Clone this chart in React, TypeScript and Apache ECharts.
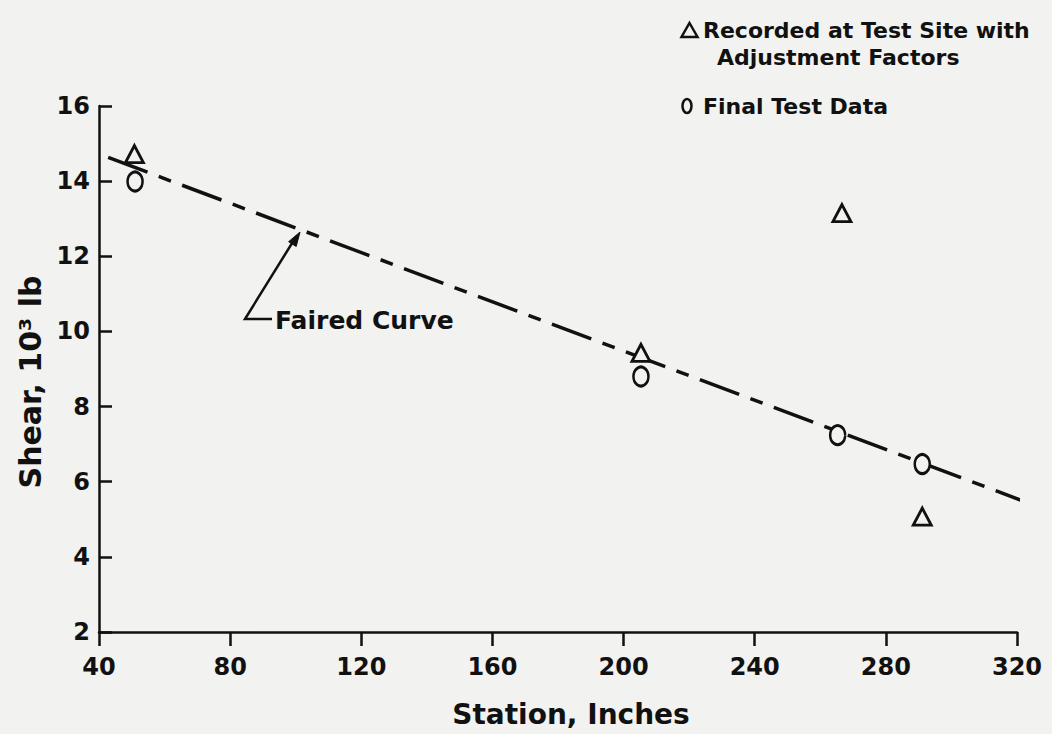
import React, { useEffect, useRef } from "react";
import * as echarts from "echarts";

// ---- data ----
const xTicks = [40, 80, 120, 160, 200, 240, 280, 320];
const yTicks = [2, 4, 6, 8, 10, 12, 14, 16];

const recordedStations = [50.8, 205.3, 266.6, 291.1];
const recordedShear = [14.72, 9.43, 13.15, 5.07];

const finalStations = [51.0, 205.3, 265.3, 291.1];
const finalShear = [13.99, 8.8, 7.24, 6.47];

const fairedStations = [42.8, 323.6];
const fairedShear = [14.63, 5.43];

const INK = "#111111";
const BG = "#f2f2f0";
const FONT = "DejaVu Sans";

export default function App() {
  const ref = useRef<HTMLDivElement>(null);

  useEffect(() => {
    if (!ref.current) return;
    const chart = echarts.init(ref.current, undefined, { renderer: "svg" });

    const recorded = recordedStations.map((x, i) => [x, recordedShear[i]]);
    const finals = finalStations.map((x, i) => [x, finalShear[i]]);
    const faired = fairedStations.map((x, i) => [x, fairedShear[i]]);

    const tip = [300, 232];
    chart.setOption({
      animation: false,
      backgroundColor: BG,
      textStyle: { fontFamily: FONT, color: INK, fontWeight: "bold" },
      grid: { left: 99, right: 35, top: 106, bottom: 102, containLabel: false },
      xAxis: {
        type: "value",
        min: xTicks[0],
        max: xTicks[xTicks.length - 1],
        interval: 40,
        name: "Station, Inches",
        nameLocation: "middle",
        nameGap: 68,
        nameTextStyle: { fontSize: 28, color: INK, fontFamily: FONT, fontWeight: "bold", padding: [0, 0, 0, 26] },
        axisLine: { show: true, lineStyle: { color: INK, width: 2.5 } },
        axisTick: { show: true, inside: false, length: 14, lineStyle: { color: INK, width: 2.5 } },
        axisLabel: { fontSize: 24, color: INK, margin: 23, fontFamily: FONT, fontWeight: "bold" },
        splitLine: { show: false },
      },
      yAxis: {
        type: "value",
        min: yTicks[0],
        max: yTicks[yTicks.length - 1],
        interval: 2,
        name: "Shear, 10³ lb",
        nameLocation: "middle",
        nameGap: 48,
        nameRotate: 90,
        nameTextStyle: { fontSize: 30, color: INK, fontFamily: FONT, fontWeight: "bold", padding: [0, 26, 0, 0] },
        axisLine: { show: true, lineStyle: { color: INK, width: 2.5 } },
        axisTick: { show: true, inside: true, length: 13, lineStyle: { color: INK, width: 2.5 } },
        axisLabel: { fontSize: 24, color: INK, margin: 9, fontFamily: FONT, fontWeight: "bold" },
        splitLine: { show: false },
      },
      series: [
        {
          name: "Faired Curve",
          type: "line",
          data: faired,
          symbol: "none",
          clip: false,
          silent: true,
          z: 1,
          lineStyle: { color: INK, width: 3.5, type: [42, 12, 13, 12], opacity: 1 },
        },
        {
          name: "Recorded at Test Site with Adjustment Factors",
          type: "scatter",
          data: recorded,
          symbol: "triangle",
          symbolSize: [18, 17],
          z: 3,
          itemStyle: { color: BG, borderColor: INK, borderWidth: 2.8, opacity: 1 },
        },
        {
          name: "Final Test Data",
          type: "scatter",
          data: finals,
          symbol: "circle",
          symbolSize: [15, 19],
          z: 3,
          itemStyle: { color: BG, borderColor: INK, borderWidth: 2.8, opacity: 1 },
        },
      ],
      graphic: [
        // Faired curve annotation
        {
          type: "polyline",
          shape: { points: [[272, 319], [245, 319], [294, 240]] },
          style: { stroke: INK, lineWidth: 2.5, fill: null },
          z: 10,
        },
        {
          type: "polygon",
          shape: { points: [tip, [296.2, 246.5], [288.6, 241.7]] },
          style: { fill: INK, stroke: INK, lineWidth: 1 },
          z: 10,
        },
        {
          type: "text",
          x: 275,
          y: 320,
          style: { text: "Faired Curve", font: `bold 25px '${FONT}'`, fill: INK, verticalAlign: "middle" },
          z: 10,
        },
        // legend
        {
          type: "polygon",
          shape: { points: [[689.5, 23], [697.5, 37], [681.5, 37]] },
          style: { fill: null, stroke: INK, lineWidth: 2.5 },
          z: 10,
        },
        {
          type: "text",
          x: 703,
          y: 30,
          style: { text: "Recorded at Test Site with", font: `bold 22px '${FONT}'`, fill: INK, verticalAlign: "middle" },
          z: 10,
        },
        {
          type: "text",
          x: 717,
          y: 57,
          style: { text: "Adjustment Factors", font: `bold 22px '${FONT}'`, fill: INK, verticalAlign: "middle" },
          z: 10,
        },
        {
          type: "ellipse",
          shape: { cx: 687, cy: 106, rx: 4.5, ry: 7 },
          style: { fill: null, stroke: INK, lineWidth: 2.5 },
          z: 10,
        },
        {
          type: "text",
          x: 703,
          y: 106,
          style: { text: "Final Test Data", font: `bold 22px '${FONT}'`, fill: INK, verticalAlign: "middle" },
          z: 10,
        },
      ],
    });

    return () => chart.dispose();
  }, []);

  return (
    <div
      ref={ref}
      style={{ position: "fixed", left: 0, top: 0, width: 1052, height: 734 }}
    />
  );
}
